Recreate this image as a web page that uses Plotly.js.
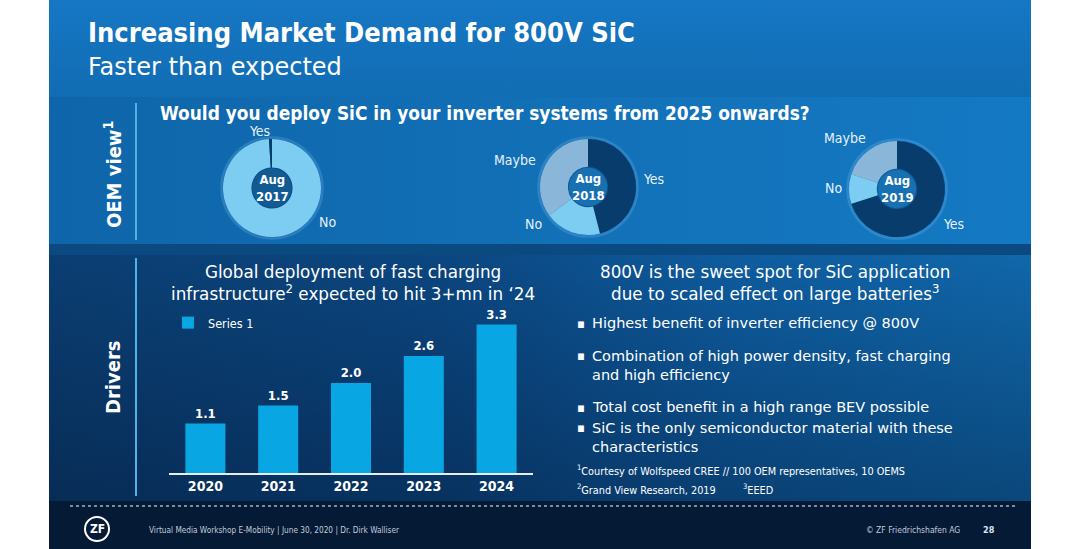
<!DOCTYPE html>
<html>
<head>
<meta charset="utf-8">
<script src="https://cdn.plot.ly/plotly-3.0.1.min.js"></script>
<style>
  html,body{margin:0;padding:0;background:#ffffff;width:1080px;height:549px;overflow:hidden;}
  #wrap{position:relative;width:1080px;height:549px;}
  .p{position:absolute;left:49px;width:982px;}
  #chart{position:absolute;left:0;top:0;width:1080px;height:549px;}
</style>
</head>
<body>
<div id="wrap">
  <div class="p" style="top:0;height:97px;background:linear-gradient(180deg,#1677c4 0%,#116cb3 100%);"></div>
  <div class="p" style="top:97px;height:147px;background:linear-gradient(90deg,#0f65a9 0%,#1270b7 50%,#1479c3 100%);"></div>
  <div class="p" style="top:244px;height:11px;background:#0b4a80;"></div>
  <div class="p" style="top:255px;height:246px;background:linear-gradient(180deg,rgba(0,12,35,0) 0%,rgba(0,12,35,0.35) 100%),linear-gradient(90deg,#0b3e72 0%,#0b4680 40%,#0e5c9f 70%,#1067aa 100%);"></div>
  <div class="p" style="top:501px;height:48px;background:#041a35;"></div>
  <div id="chart"></div>
</div>
<script>
// ---------- data ----------
const years = ['2020', '2021', '2022', '2023', '2024'];
const chargingDeployment = [1.1, 1.5, 2.0, 2.6, 3.3];
const seriesName = 'Series 1';

const survey2017Labels = ['No', 'Yes'];
const survey2017Values = [99, 1];
const survey2018Labels = ['Yes', 'No', 'Maybe'];
const survey2018Values = [46, 19, 35];
const survey2019Labels = ['Yes', 'No', 'Maybe'];
const survey2019Values = [70, 10, 20];
const surveyDates = ['Aug<br>2017', 'Aug<br>2018', 'Aug<br>2019'];

// ---------- helpers ----------
const W = 1080, H = 549;
const px = x => x / W;
const py = y => 1 - y / H;
const FONT = '"DejaVu Sans Condensed", "DejaVu Sans", sans-serif';
const REG = '"DejaVu Sans", sans-serif';
const NARROW = '"Liberation Sans Narrow", "DejaVu Sans Condensed", sans-serif';
const WHITE = '#ffffff';
const LABEL = '#e6f1fa';

const sliceColor = {Yes: '#083c6c', No: '#7dcdf2', Maybe: '#8ab6da'};

// donut geometry (pixel centres / radius)
const donuts = [
  {cx: 272, cy: 188, r: 49, labels: survey2017Labels, values: survey2017Values, hole: '#115a94'},
  {cx: 588, cy: 187, r: 48, labels: survey2018Labels, values: survey2018Values, hole: '#1670b1'},
  {cx: 897, cy: 189, r: 48, labels: survey2019Labels, values: survey2019Values, hole: '#1670b1'}
];

const traces = [];
const shapes = [];
const annotations = [];

donuts.forEach((d, i) => {
  traces.push({
    type: 'pie',
    labels: d.labels,
    values: d.values,
    hole: 0.42,
    sort: false,
    direction: 'clockwise',
    rotation: 0,
    textinfo: 'none',
    hoverinfo: 'label+value',
    showlegend: false,
    marker: {colors: d.labels.map(l => sliceColor[l]), line: {color: 'rgba(0,0,0,0)', width: 0}},
    domain: {x: [px(d.cx - d.r), px(d.cx + d.r)], y: [py(d.cy + d.r), py(d.cy - d.r)]}
  });
  // glow ring
  shapes.push({type: 'circle', xref: 'paper', yref: 'paper', layer: 'below',
    x0: px(d.cx - d.r - 1.5), x1: px(d.cx + d.r + 1.5), y0: py(d.cy + d.r + 1.5), y1: py(d.cy - d.r - 1.5),
    line: {color: 'rgba(140,200,240,0.22)', width: 2.5}, fillcolor: 'rgba(0,0,0,0)'});
  // hole fill
  const hr = d.r * 0.42;
  shapes.push({type: 'circle', xref: 'paper', yref: 'paper', layer: 'below',
    x0: px(d.cx - hr), x1: px(d.cx + hr), y0: py(d.cy + hr), y1: py(d.cy - hr),
    line: {color: 'rgba(10,70,125,0.6)', width: 2}, fillcolor: d.hole});
  annotations.push({xref: 'paper', yref: 'paper', x: px(d.cx), y: py(d.cy), xanchor: 'center', yanchor: 'middle',
    text: surveyDates[i], showarrow: false, align: 'center',
    font: {family: FONT, size: 13, color: WHITE, weight: 'bold'}});
});

// bar chart
traces.push({
  type: 'bar',
  name: seriesName,
  x: years,
  y: chargingDeployment,
  text: chargingDeployment.map(v => v.toFixed(1)),
  textposition: 'outside',
  cliponaxis: false,
  textfont: {family: FONT, size: 13, color: WHITE, weight: 'bold'},
  marker: {color: '#08a6e3'},
  hoverinfo: 'x+y',
  showlegend: true
});

// donut slice labels
const sliceLabels = [
  ['Yes', 259, 131], ['No', 327, 222],
  ['Maybe', 515, 160], ['Yes', 653, 179], ['No', 533, 224],
  ['Maybe', 845, 138], ['No', 833, 188], ['Yes', 953, 224]
];
sliceLabels.forEach(s => annotations.push({xref: 'paper', yref: 'paper', x: px(s[1]), y: py(s[2]),
  xanchor: 'center', yanchor: 'middle', text: s[0], showarrow: false,
  font: {family: FONT, size: 14, color: LABEL}}));

function txt(t, x, y, size, opts) {
  opts = opts || {};
  annotations.push(Object.assign({xref: 'paper', yref: 'paper', x: px(x), y: py(y),
    xanchor: 'left', yanchor: 'middle', text: t, showarrow: false, align: 'left',
    font: {family: opts.family || FONT, size: size, color: opts.color || WHITE, weight: opts.bold ? 'bold' : 'normal'}},
    opts.extra || {}));
}

txt('Increasing Market Demand for 800V SiC', 86, 33, 27, {bold: true});
txt('Faster than expected', 86, 67, 24, {family: REG});
txt('Would you deploy SiC in your inverter systems from 2025 onwards?', 158, 113, 18.9, {bold: true});
txt('OEM view<sup>1</sup>', 113, 175, 20, {bold: true, extra: {textangle: -90, xanchor: 'center'}});
txt('Drivers', 113, 377, 20, {bold: true, extra: {textangle: -90, xanchor: 'center'}});
txt('Global deployment of fast charging<br>infrastructure<sup>2</sup> expected to hit 3+mn in \u201824', 353, 283, 16.8,
  {family: REG, extra: {xanchor: 'center', align: 'center'}});
txt('800V is the sweet spot for SiC application<br>due to scaled effect on large batteries<sup>3</sup>', 775, 283, 16.8,
  {family: REG, extra: {xanchor: 'center', align: 'center'}});

const bullets = [
  ['Highest benefit of inverter efficiency @ 800V', 323],
  ['Combination of high power density, fast charging<br>and high efficiency', 365],
  ['Total cost benefit in a high range BEV possible', 407],
  ['SiC is the only semiconductor material with these<br>characteristics', 437]
];
const bulletFirstLine = [323, 355, 407, 427];
bullets.forEach((b, i) => {
  txt(b[0], 590, b[1], 14.5, {family: REG});
  txt('\u25AA', 575, bulletFirstLine[i], 13);
});

txt('<sup>1</sup>Courtesy of Wolfspeed CREE // 100 OEM representatives, 10 OEMS', 575, 470, 10.8);
txt('<sup>2</sup>Grand View Research, 2019', 575, 489, 10.8);
txt('<sup>3</sup>EEED', 741, 489, 10.8);

// footer
txt('Virtual Media Workshop E-Mobility | June 30, 2020 | Dr. Dirk Walliser', 147, 530, 8.2, {family: NARROW, color: '#c3cddb'});
txt('\u00A9 ZF Friedrichshafen AG', 962, 530, 8.5, {family: NARROW, color: '#c3cddb', extra: {xanchor: 'right'}});
txt('28', 981, 530, 9, {bold: true, color: '#dfe6ef'});
txt('ZF', 97, 529, 12, {bold: true, extra: {xanchor: 'center'}});

shapes.push({type: 'circle', xref: 'paper', yref: 'paper', x0: px(85), x1: px(109), y0: py(541), y1: py(517),
  line: {color: WHITE, width: 2}, fillcolor: 'rgba(0,0,0,0)'});
shapes.push({type: 'line', xref: 'paper', yref: 'paper', x0: px(70), x1: px(1016), y0: py(506), y1: py(506),
  line: {color: '#9fb3cb', width: 1.5, dash: 'dot'}});
// section dividers
shapes.push({type: 'line', xref: 'paper', yref: 'paper', x0: px(136), x1: px(136), y0: py(103), y1: py(240),
  line: {color: '#52b2e8', width: 2}});
shapes.push({type: 'line', xref: 'paper', yref: 'paper', x0: px(136), x1: px(136), y0: py(258), y1: py(496),
  line: {color: '#52b2e8', width: 2}});

const layout = {
  width: W, height: H,
  margin: {l: 0, r: 0, t: 0, b: 0},
  paper_bgcolor: 'rgba(0,0,0,0)',
  plot_bgcolor: 'rgba(0,0,0,0)',
  bargap: 0.45,
  font: {family: FONT, color: WHITE},
  showlegend: true,
  legend: {x: px(168), y: py(308), xanchor: 'left', yanchor: 'top', bgcolor: 'rgba(0,0,0,0)',
    font: {family: FONT, size: 12.5, color: WHITE}},
  xaxis: {domain: [px(169), px(533)], type: 'category', showline: true, linecolor: '#e6eef6', linewidth: 1.5,
    ticks: '', showgrid: false, zeroline: false, fixedrange: true,
    tickfont: {family: FONT, size: 14, color: WHITE, weight: 'bold'}},
  yaxis: {domain: [py(473), py(311)], range: [0, 3.6], visible: false, fixedrange: true},
  shapes: shapes,
  annotations: annotations
};

Plotly.newPlot('chart', traces, layout, {displayModeBar: false, staticPlot: true});
</script>
</body>
</html>
